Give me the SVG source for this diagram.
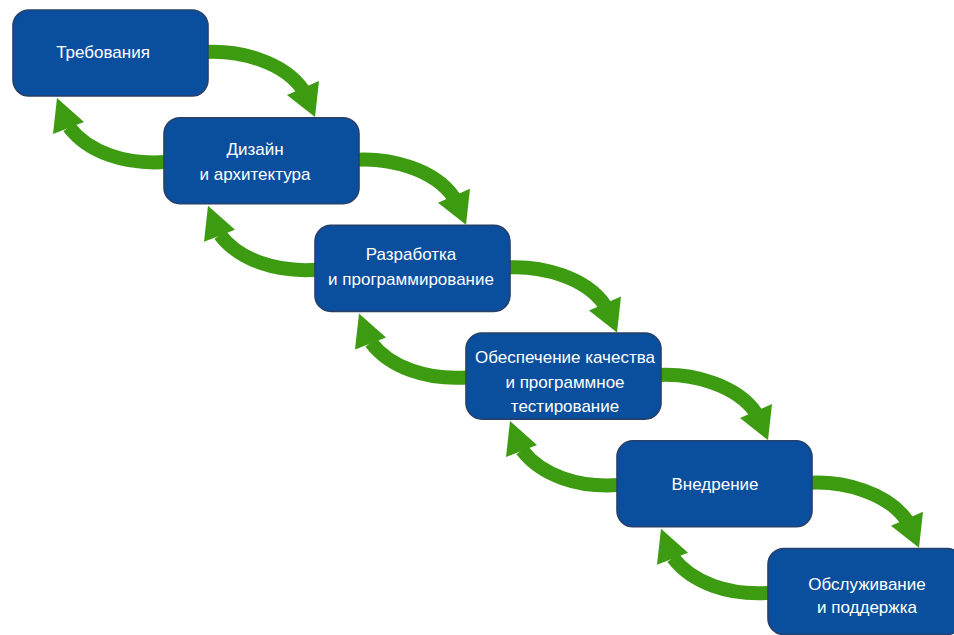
<svg xmlns="http://www.w3.org/2000/svg" xmlns:xlink="http://www.w3.org/1999/xlink" width="954" height="635" viewBox="0 0 954 635">
<style>
.box{fill:#0a4f9e;stroke:#26406a;stroke-width:1.6}
.lbl{font-family:"Liberation Sans",Arial,sans-serif;font-size:17px;fill:#ffffff;text-anchor:middle}
.shaft{fill:none;stroke:#3d9b12;stroke-width:14}
.head{fill:#3d9b12}
</style>
<defs>
<g id="fwd">
<path class="shaft" d="M205,52 C240,50 284,62 303,90"/>
<polygon class="head" points="315,117 287,95 319,81"/>
</g>
<g id="back">
<path class="shaft" d="M166,162 C125,165 88,152 69,127"/>
<polygon class="head" points="57,98 53,134 84,122"/>
</g>
</defs>
<rect width="954" height="635" fill="#ffffff"/>
<g id="connectors">
<use xlink:href="#fwd"/>
<use xlink:href="#fwd" transform="translate(151,107.7)"/>
<use xlink:href="#fwd" transform="translate(302,215.4)"/>
<use xlink:href="#fwd" transform="translate(453,323.1)"/>
<use xlink:href="#fwd" transform="translate(604,430.8)"/>
<use xlink:href="#back"/>
<use xlink:href="#back" transform="translate(151,107.7)"/>
<use xlink:href="#back" transform="translate(302,215.4)"/>
<use xlink:href="#back" transform="translate(453,323.1)"/>
<use xlink:href="#back" transform="translate(604,430.8)"/>
</g>
<g id="node1">
<rect class="box" x="13" y="10" width="195" height="86" rx="16"/>
<text class="lbl" x="103" y="58">Требования</text>
</g>
<g id="node2">
<rect class="box" x="164" y="117.7" width="195" height="86" rx="16"/>
<text class="lbl" x="255" y="155">Дизайн</text>
<text class="lbl" x="255" y="180">и архитектура</text>
</g>
<g id="node3">
<rect class="box" x="315" y="225.4" width="195" height="86" rx="16"/>
<text class="lbl" x="411" y="260">Разработка</text>
<text class="lbl" x="411" y="285">и программирование</text>
</g>
<g id="node4">
<rect class="box" x="466" y="333.1" width="195" height="86" rx="16"/>
<text class="lbl" x="565" y="363">Обеспечение качества</text>
<text class="lbl" x="565" y="388">и программное</text>
<text class="lbl" x="565" y="412">тестирование</text>
</g>
<g id="node5">
<rect class="box" x="617" y="440.8" width="195" height="86" rx="16"/>
<text class="lbl" x="715" y="490">Внедрение</text>
</g>
<g id="node6">
<rect class="box" x="768" y="548.5" width="195" height="86" rx="16"/>
<text class="lbl" x="867" y="590">Обслуживание</text>
<text class="lbl" x="867" y="613">и поддержка</text>
</g>
</svg>
